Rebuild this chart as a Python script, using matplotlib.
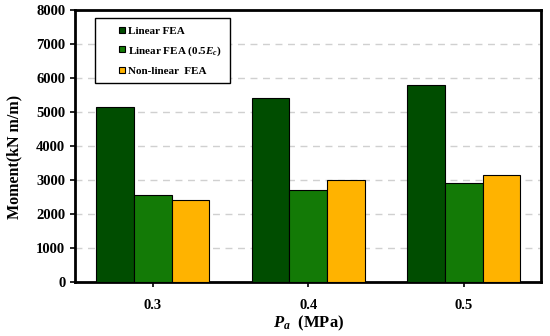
import numpy as np
import matplotlib.pyplot as plt
from matplotlib.lines import Line2D

# data
pressures = ['0.3', '0.4', '0.5']
series_names = ['Linear FEA', 'Linear FEA (0.5$E_c$)', 'Non-linear  FEA']
linear_fea = [5150, 5400, 5780]
linear_fea_half = [2550, 2700, 2900]
nonlinear_fea = [2400, 3000, 3150]
colors = ['#004d00', '#137a06', '#ffb300']

plt.rcParams['font.family'] = 'Liberation Serif'
plt.rcParams['font.weight'] = 'bold'
plt.rcParams['mathtext.fontset'] = 'custom'
plt.rcParams['mathtext.rm'] = 'Liberation Serif:bold'
plt.rcParams['mathtext.it'] = 'Liberation Serif:bold:italic'

fig = plt.figure(figsize=(5.5, 3.36), dpi=100)
ax = fig.add_axes([0.1364, 0.1616, 0.848, 0.8085])

x = np.arange(len(pressures)) + 0.5
w = 0.243
for off, vals, c in zip([-w, 0, w], [linear_fea, linear_fea_half, nonlinear_fea], colors):
    ax.bar(x + off, vals, w, color=c, edgecolor='black', linewidth=0.8, zorder=3)

ax.set_xlim(0, 3)
ax.set_ylim(0, 8000)
ax.set_xticks(x)
ax.set_xticklabels(pressures)
ax.set_yticks(np.arange(0, 8001, 1000))
ax.yaxis.grid(True, linestyle=(0, (5, 4)), color='#d0d0d0', linewidth=1)
ax.set_axisbelow(True)
for s in ax.spines.values():
    s.set_linewidth(2)
ax.tick_params(axis='both', labelsize=10.5, width=1.2, length=3.5)
ax.tick_params(axis='x', pad=9)

ax.set_ylabel('Moment(kN m/m)', fontsize=11.5, fontweight='bold')
ax.yaxis.set_label_coords(-0.112, 0.46)
ax.set_xlabel('$P_a$  (MPa)', fontsize=12, fontweight='bold', labelpad=1)

# legend with small square markers
handles = [Line2D([], [], linestyle='none', marker='s', markersize=5,
                  markerfacecolor=c, markeredgecolor='black', markeredgewidth=0.8)
           for c in colors]
leg = ax.legend(handles, series_names, loc='upper left',
                bbox_to_anchor=(0.043, 0.97), fontsize=8,
                handlelength=3.5, handletextpad=-1.25, labelspacing=0.75,
                borderpad=0.7, borderaxespad=0, fancybox=False, framealpha=1,
                edgecolor='black')
leg.get_frame().set_linewidth(1)

fig.savefig('out.png', dpi=100)
